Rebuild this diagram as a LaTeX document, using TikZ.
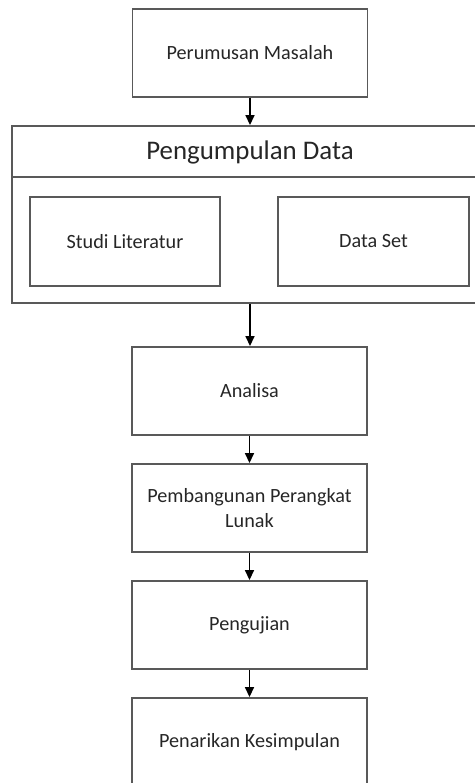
\documentclass[tikz,border=0pt]{standalone}
\usepackage{fontspec}
\setmainfont{Carlito}
\usetikzlibrary{arrows.meta,positioning}
\begin{document}
\begin{tikzpicture}[x=0.02cm,y=-0.02cm,
    box/.style={draw=black!65,line width=1.1pt,minimum width=4.7cm,minimum height=1.76cm,
        align=center,inner sep=0pt,font=\fontsize{11.5}{14.7}\selectfont,text=black!85},
    arr/.style={-{Triangle[length=0.2cm,width=0.18cm]},line width=0.9pt}]
    \useasboundingbox (0,0) rectangle (475,783);
    \clip (0,0) rectangle (475,783);
    \node[box,minimum height=1.76cm] (rumusan) at (250,53) {Perumusan Masalah};
    % kotak pengumpulan data
    \node[draw=black!65,line width=1.1pt,minimum width=9.52cm,minimum height=3.54cm,inner sep=0pt] (kumpul) at (250,214.5) {};
    \draw[draw=black!65,line width=1.1pt] ([yshift=-1.04cm]kumpul.north west) -- ([yshift=-1.04cm]kumpul.north east);
    \node[font=\fontsize{15.3}{18}\selectfont,text=black!85] (judul) at (250,152) {Pengumpulan Data};
    \node[box,minimum width=3.8cm,minimum height=1.78cm] (studi) at (125,241.5) {Studi Literatur};
    \node[box,minimum width=3.82cm,minimum height=1.78cm] (dataset) at (373.5,241.5) {Data Set};
    % tahap berikutnya
    \node[box] (analisa) at (249.5,391) {Analisa};
    \node[box] (bangun) at (249.5,508) {Pembangunan Perangkat\\Lunak};
    \node[box] (uji) at (249.5,625) {Pengujian};
    \node[box,minimum height=1.78cm] (tarik) at (249.5,742.5) {Penarikan Kesimpulan};
    \draw[arr] (rumusan.south) -- (rumusan.south |- kumpul.north);
    \draw[arr] (kumpul.south) -- (kumpul.south |- analisa.north);
    \draw[arr] (analisa) -- (bangun);
    \draw[arr] (bangun) -- (uji);
    \draw[arr] (uji) -- (tarik);
\end{tikzpicture}
\end{document}
